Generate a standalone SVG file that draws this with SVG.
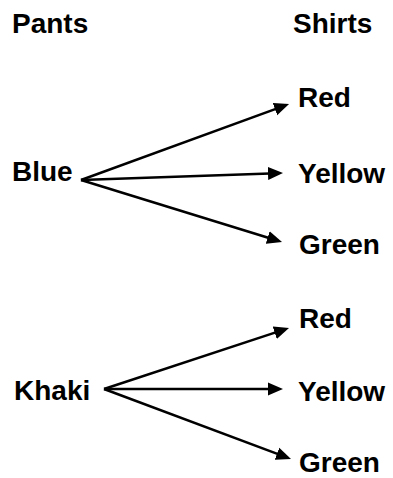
<svg xmlns="http://www.w3.org/2000/svg" width="393" height="478" viewBox="0 0 393 478">
<style>
text{font-family:"Liberation Sans",Arial,sans-serif;font-weight:bold;font-size:28px;fill:#000}
.c{stroke:#000;stroke-width:2.5;fill:none}
</style>
<defs>
<marker id="ah" markerUnits="userSpaceOnUse" markerWidth="16" markerHeight="14" refX="9" refY="6.5" orient="auto" viewBox="0 0 16 13">
<path d="M0,0 L15,6.5 L0,13 z" fill="#000"/>
</marker>
</defs>
<g id="hdr-pants"><text x="12" y="33">Pants</text></g>
<g id="hdr-shirts"><text x="293" y="33">Shirts</text></g>
<g id="blue"><text x="12" y="181">Blue</text></g>
<g id="khaki"><text x="14" y="400">Khaki</text></g>
<g id="red1"><text x="298" y="107">Red</text></g>
<g id="yellow1"><text x="298" y="183">Yellow</text></g>
<g id="green1"><text x="299" y="254">Green</text></g>
<g id="red2"><text x="299" y="328">Red</text></g>
<g id="yellow2"><text x="298" y="401">Yellow</text></g>
<g id="green2"><text x="299" y="472">Green</text></g>
<g id="connectors">
<line class="c" x1="81" y1="180" x2="283.4" y2="106.1" marker-end="url(#ah)"/>
<line class="c" x1="81" y1="180" x2="277" y2="173.2" marker-end="url(#ah)"/>
<line class="c" x1="81" y1="180" x2="276.3" y2="240.2" marker-end="url(#ah)"/>
<line class="c" x1="104" y1="389" x2="283.3" y2="329.9" marker-end="url(#ah)"/>
<line class="c" x1="104" y1="389" x2="277" y2="389" marker-end="url(#ah)"/>
<line class="c" x1="104" y1="389" x2="285.4" y2="456.9" marker-end="url(#ah)"/>
</g>
</svg>
